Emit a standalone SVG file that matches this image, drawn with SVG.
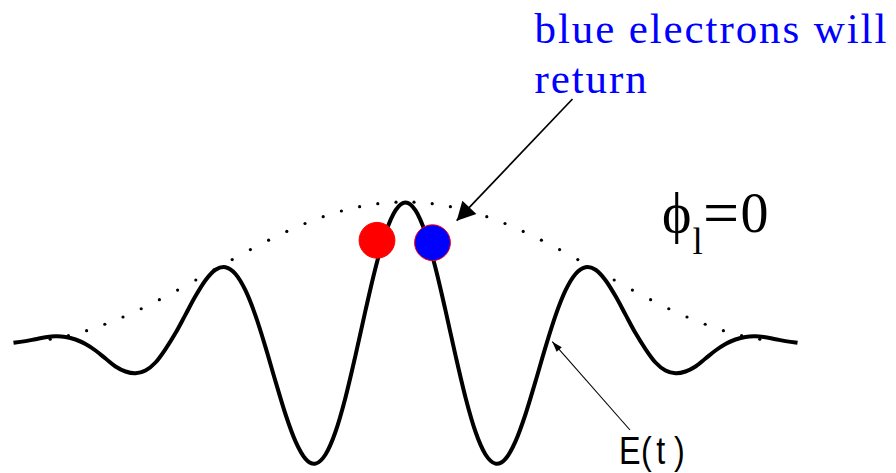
<svg xmlns="http://www.w3.org/2000/svg" width="896" height="473" viewBox="0 0 896 473">
<style>
.wave{fill:none;stroke:#000;stroke-width:4;stroke-linejoin:round;stroke-linecap:butt}
.env circle{fill:#000}
.note{font-family:"Liberation Serif","Times New Roman",serif;font-size:43px;fill:#0000ff;letter-spacing:1.9px}
.phi{font-family:"Liberation Serif","Times New Roman",serif;fill:#000}
.lab{font-family:"Liberation Sans",Arial,sans-serif;font-size:38px;fill:#000}
.con1{fill:none;stroke:#000;stroke-width:1.7}
.con2{fill:none;stroke:#000;stroke-width:1.1}
</style>
<defs>
<marker id="headBig" markerUnits="userSpaceOnUse" markerWidth="20" markerHeight="20" viewBox="0 -10 19 20" refX="18.4" refY="0" orient="auto">
<path d="M0,-9.7 L18.4,0 L0,9.7 Z" fill="#000"/>
</marker>
<marker id="headSmall" markerUnits="userSpaceOnUse" markerWidth="12" markerHeight="8" viewBox="0 -4 11 8" refX="10.5" refY="0" orient="auto">
<path d="M0,-3.4 L10.5,0 L0,3.4 Z" fill="#000"/>
</marker>
</defs>

<g id="envelope" class="env">
<circle cx="396" cy="202.18" r="1.6"/><circle cx="414" cy="202.18" r="1.6"/>
<circle cx="377.8" cy="203.67" r="1.6"/><circle cx="432.2" cy="203.67" r="1.6"/>
<circle cx="359.6" cy="206.63" r="1.6"/><circle cx="450.4" cy="206.63" r="1.6"/>
<circle cx="341.4" cy="210.99" r="1.6"/><circle cx="468.6" cy="210.99" r="1.6"/>
<circle cx="323.2" cy="216.66" r="1.6"/><circle cx="486.8" cy="216.66" r="1.6"/>
<circle cx="305" cy="223.51" r="1.6"/><circle cx="505" cy="223.51" r="1.6"/>
<circle cx="286.8" cy="231.4" r="1.6"/><circle cx="523.2" cy="231.4" r="1.6"/>
<circle cx="268.6" cy="240.17" r="1.6"/><circle cx="541.4" cy="240.17" r="1.6"/>
<circle cx="250.4" cy="249.62" r="1.6"/><circle cx="559.6" cy="249.62" r="1.6"/>
<circle cx="232.2" cy="259.56" r="1.6"/><circle cx="577.8" cy="259.56" r="1.6"/>
<circle cx="214" cy="269.77" r="1.6"/><circle cx="596" cy="269.77" r="1.6"/>
<circle cx="195.8" cy="279.99" r="1.6"/><circle cx="614.2" cy="279.99" r="1.6"/>
<circle cx="177.6" cy="290.05" r="1.6"/><circle cx="632.4" cy="290.05" r="1.6"/>
<circle cx="159.4" cy="299.7" r="1.6"/><circle cx="650.6" cy="299.7" r="1.6"/>
<circle cx="141.2" cy="308.73" r="1.6"/><circle cx="668.8" cy="308.73" r="1.6"/>
<circle cx="123" cy="316.99" r="1.6"/><circle cx="687" cy="316.99" r="1.6"/>
<circle cx="104.8" cy="324.26" r="1.6"/><circle cx="705.2" cy="324.26" r="1.6"/>
<circle cx="86.6" cy="330.68" r="1.6"/><circle cx="723.4" cy="330.68" r="1.6"/>
<circle cx="68.4" cy="335.62" r="1.6"/><circle cx="741.6" cy="335.62" r="1.6"/>
<circle cx="50.2" cy="339.2" r="1.6"/><circle cx="759.8" cy="339.2" r="1.6"/>
</g>

<g id="field" transform="translate(0.5,0.5)">
<path class="wave" d="M 13 342.3 L 15 342 C 18.33 341.63 21.67 341.15 25 340.6
S 31.67 339.33 35 338.7 S 41.67 337.28 45 336.8 S 51.67 335.87 55 335.8 S 61.67 335.87 65 336.4
S 71.67 337.82 75 339 S 81.67 341.67 85 343.5 S 91.67 347.58 95 350 S 101.67 355.33 105 358
S 111.67 363.83 115 366 S 121.67 369.87 125 371 S 131.67 372.97 135 372.8 S 141.67 371.8 145 370
S 151.67 365.57 155 362 S 161.67 353.47 165 348.57 S 171.67 338.33 175 332.59 S 181.67 320.31 185 314.14
S 191.67 301.33 195 295.59 S 201.67 284.09 205 279.7 S 211.67 271.44 215 269.27 S 221.67 265.99 225 266.69
S 231.67 269.59 235 273.46 S 241.67 283 245 289.94 S 251.67 305.66 255 315.1 S 261.67 335.61 265 346.57
S 271.67 369.65 275 380.85 S 281.67 403.74 285 413.75 S 291.67 433.46 295 440.89 S 301.67 454.61 305 458.32
S 311.67 463.89 315 463.17 S 321.67 459.34 325 454.02 S 331.67 440.77 335 431.25 S 341.67 409.65 345 396.92
S 351.67 369.37 355 354.87 S 361.67 324.48 365 309.91 S 371.67 280.33 375 267.46 S 381.67 242.26 385 232.67
S 391.67 215.03 395 209.92 S 401.67 202 405 202 S 411.67 204.81 415 209.92 S 421.67 223.08 425 232.67
S 431.67 254.59 435 267.46 S 441.67 295.34 445 309.91 S 451.67 340.37 455 354.87 S 461.67 384.19 465 396.92
S 471.67 421.73 475 431.25 S 481.67 448.7 485 454.02 S 491.67 462.45 495 463.17 S 501.67 462.03 505 458.32
S 511.67 448.32 515 440.89 S 521.67 423.76 525 413.75 S 531.67 392.05 535 380.85 S 541.67 357.53 545 346.57
S 551.67 324.54 555 315.1 S 561.67 296.88 565 289.94 S 571.67 277.34 575 273.46 S 581.67 267.39 585 266.69
S 591.67 267.1 595 269.27 S 601.67 275.31 605 279.7 S 611.67 289.85 615 295.59 S 621.67 307.97 625 314.14
S 631.67 326.85 635 332.59 S 641.67 343.67 645 348.57 S 651.67 358.43 655 362 S 661.67 368.2 665 370
S 671.67 372.63 675 372.8 S 681.67 372.13 685 371 S 691.67 368.17 695 366 S 701.67 360.67 705 358
S 711.67 352.42 715 350 S 721.67 345.33 725 343.5 S 731.67 340.18 735 339 S 741.67 336.93 745 336.4
S 751.67 335.73 755 335.8 S 761.67 336.32 765 336.8 S 771.67 338.07 775 338.7 S 781.67 340.05 785 340.6
S 791.67 341.63 795 342 L 797 342.3"/>
</g>

<g id="red-electron">
<circle cx="377" cy="240.3" r="17.9" fill="#ff0000" stroke="#ff0000" stroke-width="1"/>
</g>
<g id="blue-electron">
<circle cx="432.5" cy="242.7" r="17.9" fill="#0000ff" stroke="#ff0000" stroke-width="1"/>
</g>

<g id="note-label">
<text class="note" x="534.5" y="43">blue electrons will</text>
<text class="note" x="534.5" y="93">return</text>
</g>

<g id="phase-label">
<text class="phi" font-size="56"><tspan x="662" y="232">ϕ</tspan><tspan x="692.5" y="254" font-size="37">l</tspan><tspan x="703" y="233.5" font-size="64">=</tspan><tspan x="740.4" y="232">0</tspan></text>
</g>

<g id="field-label">
<text class="lab" transform="translate(619,464) scale(0.85,1)"><tspan x="0" y="0">E</tspan><tspan x="25.8" y="0">(</tspan><tspan x="43.8" y="0">t</tspan><tspan x="64.6" y="0">)</tspan></text>
</g>

<g id="connectors">
<line class="con1" x1="572.5" y1="99" x2="456.7" y2="220.7" marker-end="url(#headBig)"/>
<line class="con2" x1="630" y1="430" x2="552.3" y2="341.7" marker-end="url(#headSmall)"/>
</g>
</svg>
